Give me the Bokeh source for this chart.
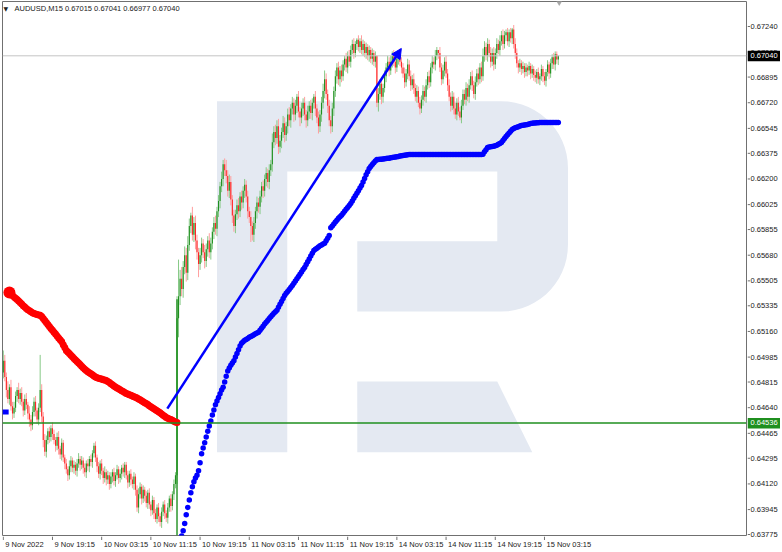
import numpy as np
from bokeh.plotting import figure
from bokeh.layouts import row, column
from bokeh.models import Range1d, Label, ColumnDataSource, Span, Arrow, NormalHead
from bokeh.embed import file_html
from bokeh.resources import INLINE
from bokeh.core.properties import value

SCALE = 1e5  # prices below are written in points (5 digits)

symbol_title = "AUDUSD,M15"
last_ohlc = ["0.67015", "0.67041", "0.66977", "0.67040"]

first_open_pts = 64880
close_pts = [
    64960, 64850, 64760, 64700, 64780, 64650, 64600, 64640, 64720, 64760, 64700, 64740, 64680, 64620, 64700, 64660, 64600, 64560, 64520, 64610,
    64680, 64620, 64560, 64640, 64760, 64580, 64420, 64340, 64420, 64480, 64440, 64500, 64460, 64420, 64380, 64440, 64360, 64320, 64400, 64300,
    64260, 64220, 64180, 64240, 64280, 64230, 64250, 64210, 64260, 64290, 64250, 64280, 64230, 64200, 64260, 64240, 64290, 64270, 64330, 64380,
    64300, 64240, 64190, 64260, 64210, 64160, 64200, 64150, 64180, 64120, 64170, 64200, 64140, 64180, 64220, 64160, 64190, 64230, 64200, 64250,
    64180, 64130, 64190, 64150, 64120, 64170, 64080, 63960, 64050, 64100, 64020, 64080, 64040, 63990, 64060, 63980, 63940, 64010, 63920, 63880,
    63960, 63900, 63860, 63930, 63980, 63920, 63890, 63960, 64020, 63970, 64050, 64120, 64180, 65250, 65400, 65520, 65450, 65600, 65680, 65560,
    65750, 65880, 65950, 65820, 65900, 65780, 65700, 65620, 65680, 65760, 65700, 65640, 65720, 65780, 65700, 65760, 65840, 65900, 65860, 65980,
    66050, 66150, 66200, 66300, 66260, 66220, 66120, 66180, 66060, 65950, 65880, 65960, 66020, 65980, 66080, 66040, 66120, 66160, 66080, 65980,
    65940, 65880, 65820, 65900, 65980, 66040, 66010, 66080, 66150, 66120, 66200, 66240, 66180, 66260, 66300, 66450, 66520, 66480, 66560, 66420,
    66460, 66520, 66580, 66500, 66560, 66640, 66600, 66680, 66720, 66640, 66700, 66760, 66660, 66620, 66680, 66720, 66640, 66600, 66660, 66700,
    66650, 66720, 66760, 66680, 66620, 66560, 66640, 66720, 66800, 66880, 66780, 66700, 66600, 66560, 66680, 66800, 66900, 66960, 66880, 66940,
    66900, 66980, 67020, 66960, 67040, 67000, 67080, 67120, 67060, 67120, 67150, 67100, 67140, 67080, 67120, 67060, 67100, 67040, 67080, 67020,
    67060, 67000, 67040, 66720, 66780, 66850, 66760, 66820, 66900, 66960, 67000, 66940, 67000, 67040, 67000, 66960, 67020, 67050, 67000, 66960,
    66920, 66860, 66920, 66980, 66900, 66840, 66880, 66820, 66760, 66800, 66720, 66680, 66740, 66800, 66760, 66840, 66900, 66860, 66960, 67000,
    66980, 67040, 67080, 67060, 66960, 66880, 66940, 67000, 66920, 66840, 66760, 66700, 66760, 66680, 66640, 66720, 66660, 66620, 66700, 66780,
    66740, 66820, 66760, 66840, 66900, 66840, 66780, 66860, 66920, 66880, 66960, 66900, 67040, 67100, 67040, 67120, 67060, 67000, 67060, 66980,
    67060, 67120, 67080, 67140, 67180, 67120, 67180, 67200, 67140, 67200, 67160, 67220, 67120, 67060, 66990, 66960, 66990, 66950, 66970, 66930,
    66960, 66940, 66970, 66920, 66950, 66910, 66890, 66930, 66880, 66900, 66950, 66900, 66870, 66930, 66980, 66920, 66990, 67030, 66980, 67050, 67015, 67040,
]
wick_up_pts = [
    70, 40, 30, 60, 20, 50, 30, 40, 30, 20, 50, 30, 40, 20, 30, 40, 20, 50, 30, 40,
    30, 40, 20, 30, 240, 40, 30, 40, 30, 20, 30, 20, 40, 30, 20, 30, 40, 20, 30, 20,
    20, 30, 20, 40, 30, 20, 30, 20, 30, 40, 20, 30, 20, 30, 20, 30, 20, 30, 20, 20,
    30, 20, 30, 20, 30, 20, 40, 20, 30, 20, 30, 20, 30, 20, 30, 20, 30, 20, 30, 20,
    20, 30, 20, 30, 20, 30, 20, 30, 40, 30, 20, 30, 20, 30, 20, 30, 20, 30, 20, 30,
    20, 30, 20, 30, 20, 30, 20, 30, 20, 30, 20, 30, 20, 150, 250, 60, 80, 40, 60, 50,
    60, 50, 20, 60, 40, 50, 40, 30, 50, 40, 30, 50, 40, 30, 50, 40, 30, 40, 50, 30,
    40, 30, 50, 30, 40, 70, 40, 50, 40, 30, 40, 30, 40, 50, 30, 40, 30, 40, 30, 40,
    30, 40, 30, 40, 30, 40, 30, 40, 30, 40, 30, 40, 30, 40, 30, 60, 40, 50, 40, 50,
    40, 30, 50, 40, 30, 40, 50, 30, 40, 30, 40, 20, 40, 30, 40, 30, 40, 30, 40, 30,
    40, 30, 20, 40, 30, 40, 30, 40, 50, 60, 40, 30, 40, 30, 40, 30, 40, 30, 40, 30,
    40, 30, 20, 40, 30, 40, 30, 30, 40, 20, 10, 30, 20, 40, 30, 20, 30, 20, 30, 20,
    30, 20, 30, 0, 40, 30, 40, 30, 40, 30, 40, 30, 40, 30, 40, 30, 40, 30, 40, 30,
    30, 40, 30, 40, 30, 40, 30, 40, 30, 40, 30, 40, 30, 40, 30, 40, 30, 40, 30, 40,
    30, 40, 20, 0, 40, 30, 40, 30, 40, 30, 40, 30, 40, 30, 40, 30, 40, 30, 40, 30,
    30, 40, 30, 40, 30, 40, 30, 40, 30, 40, 30, 40, 50, 40, 30, 40, 30, 40, 30, 40,
    30, 40, 30, 40, 30, 40, 30, 20, 30, 20, 30, 10, 30, 40, 30, 20, 30, 20, 30, 20,
    30, 20, 30, 20, 30, 20, 30, 20, 30, 20, 30, 20, 30, 20, 30, 20, 30, 20, 30, 20, 20, 1,
]
wick_dn_pts = [
    40, 30, 50, 30, 40, 30, 40, 30, 30, 40, 30, 40, 30, 40, 30, 30, 40, 50, 40, 30,
    30, 40, 30, 40, 30, 40, 50, 30, 40, 30, 40, 30, 40, 30, 40, 30, 40, 30, 40, 30,
    40, 30, 40, 30, 40, 30, 40, 30, 40, 30, 40, 30, 40, 30, 40, 30, 40, 30, 40, 30,
    30, 40, 30, 40, 30, 40, 30, 40, 30, 40, 30, 40, 30, 40, 30, 40, 30, 40, 30, 40,
    30, 40, 30, 40, 30, 40, 40, 30, 40, 30, 40, 30, 40, 30, 40, 30, 40, 30, 40, 20,
    30, 40, 30, 40, 30, 40, 30, 40, 30, 40, 30, 40, 30, 60, 130, 60, 50, 60, 50, 60,
    50, 40, 50, 40, 50, 60, 50, 90, 40, 50, 40, 50, 40, 50, 40, 50, 40, 50, 40, 50,
    40, 50, 40, 50, 40, 50, 40, 50, 40, 50, 40, 50, 40, 50, 40, 50, 40, 50, 40, 50,
    40, 110, 40, 50, 40, 50, 40, 50, 40, 50, 40, 50, 40, 50, 40, 50, 40, 50, 40, 50,
    40, 50, 40, 50, 40, 50, 40, 50, 40, 50, 40, 50, 40, 60, 40, 50, 40, 50, 40, 50,
    40, 50, 40, 50, 40, 50, 40, 50, 40, 50, 40, 50, 40, 50, 40, 50, 40, 50, 40, 50,
    40, 30, 40, 30, 40, 30, 40, 30, 40, 30, 40, 30, 40, 30, 40, 30, 40, 30, 40, 30,
    40, 30, 40, 30, 60, 40, 50, 40, 30, 40, 30, 40, 30, 40, 30, 40, 30, 40, 30, 40,
    30, 40, 30, 40, 30, 40, 30, 40, 30, 40, 30, 40, 30, 40, 30, 40, 30, 40, 30, 40,
    30, 40, 30, 40, 30, 40, 30, 40, 30, 40, 30, 40, 30, 40, 30, 40, 30, 20, 40, 30,
    30, 40, 30, 40, 30, 40, 30, 40, 30, 40, 30, 40, 30, 40, 30, 40, 30, 40, 30, 40,
    30, 40, 30, 40, 30, 40, 30, 40, 30, 40, 30, 40, 30, 40, 30, 40, 30, 40, 30, 40,
    30, 40, 30, 40, 30, 40, 30, 40, 30, 40, 30, 40, 30, 40, 30, 40, 30, 40, 30, 40, 30, 38,
]

red_start_bar = 4
red_line_pts = [
    65425, 65415, 65405, 65395, 65387, 65378, 65368, 65358, 65347, 65336, 65326, 65316, 65308, 65301, 65294, 65288, 65282, 65279, 65276, 65272,
    65270, 65262, 65249, 65235, 65221, 65207, 65193, 65180, 65168, 65155, 65142, 65129, 65116, 65104, 65090, 65070, 65050, 65030, 65020, 65009,
    64998, 64987, 64976, 64965, 64955, 64944, 64934, 64923, 64913, 64902, 64893, 64885, 64878, 64871, 64864, 64856, 64849, 64844, 64841, 64838,
    64835, 64831, 64828, 64825, 64818, 64811, 64803, 64796, 64788, 64781, 64775, 64769, 64762, 64756, 64750, 64743, 64737, 64733, 64728, 64724,
    64720, 64715, 64711, 64706, 64700, 64694, 64687, 64681, 64674, 64668, 64661, 64654, 64647, 64640, 64633, 64626, 64619, 64612, 64605, 64597,
    64589, 64581, 64573, 64568, 64563, 64559, 64554, 64548, 64543, 64539,
]

blue_start_bar = 113
blue_line_pts = [
    63600, 63650, 63710, 63765, 63800, 63850, 63910, 63960, 64010, 64060, 64100, 64135, 64160, 64180, 64210, 64265, 64325, 64365, 64400, 64440,
    64480, 64515, 64550, 64590, 64625, 64660, 64685, 64710, 64735, 64760, 64780, 64815, 64855, 64890, 64910, 64930, 64945, 64960, 64985, 65010,
    65035, 65060, 65080, 65090, 65100, 65105, 65112, 65120, 65125, 65130, 65138, 65144, 65150, 65155, 65168, 65182, 65196, 65210, 65222, 65235,
    65248, 65260, 65272, 65284, 65295, 65305, 65325, 65345, 65365, 65385, 65405, 65420, 65432, 65446, 65460, 65474, 65488, 65504, 65520, 65535,
    65550, 65566, 65582, 65597, 65616, 65636, 65655, 65674, 65694, 65712, 65720, 65728, 65736, 65744, 65750, 65756, 65762, 65778, 65796, 65814,
    65868, 65880, 65893, 65906, 65919, 65932, 65943, 65952, 65966, 65980, 65993, 66006, 66019, 66032, 66050, 66068, 66086, 66103, 66120, 66138,
    66155, 66180, 66204, 66228, 66250, 66272, 66285, 66298, 66310, 66322, 66332, 66333, 66334, 66335, 66336, 66338, 66340, 66341, 66342, 66344,
    66346, 66348, 66350, 66352, 66354, 66356, 66358, 66360, 66362, 66364, 66366, 66367, 66367, 66367, 66367, 66367, 66367, 66367, 66367, 66367,
    66367, 66367, 66367, 66367, 66367, 66367, 66367, 66367, 66367, 66367, 66367, 66367, 66367, 66367, 66367, 66367, 66367, 66367, 66367, 66367,
    66367, 66367, 66367, 66367, 66367, 66367, 66367, 66367, 66367, 66367, 66367, 66367, 66367, 66367, 66367, 66367, 66367, 66367, 66367, 66368,
    66385, 66400, 66414, 66418, 66420, 66422, 66424, 66426, 66430, 66436, 66442, 66448, 66462, 66476, 66490, 66502, 66514, 66526, 66538, 66545,
    66549, 66553, 66557, 66561, 66564, 66566, 66568, 66570, 66572, 66575, 66578, 66580, 66581, 66582, 66583, 66584, 66585, 66585, 66585, 66585,
    66585, 66585, 66585, 66585, 66585, 66585, 66585, 66585, 66585,
]

support_level = 0.64536
last_price = 0.67040
cpi_bar = 113
cpi_line_top = 0.65380
arrow_bar0, arrow_price0 = 106.7, 0.64634
arrow_bar1, arrow_price1 = 258.9, 0.67090
blue_marker_price = 0.64610

price_ticks = [0.67240, 0.67065, 0.66895, 0.66720, 0.66545, 0.66375, 0.66200, 0.66025,
               0.65855, 0.65680, 0.65505, 0.65335, 0.65160, 0.64985, 0.64815, 0.64640,
               0.64465, 0.64295, 0.64120, 0.63945, 0.63775]
price_labels = ["%.5f" % t for t in price_ticks]
time_tick_bars = [0, 32, 64, 96, 128, 160, 192, 224, 256, 288, 320, 352]
time_labels = ["9 Nov 2022", "9 Nov 19:15", "10 Nov 03:15", "10 Nov 11:15", "10 Nov 19:15",
               "11 Nov 03:15", "11 Nov 11:15", "11 Nov 19:15", "14 Nov 03:15",
               "14 Nov 11:15", "14 Nov 19:15", "15 Nov 03:15"]

# ---------------------------------------------------------------- layout
MAIN_W, MAIN_H = 747, 536
RIGHT_W = 33
BOTTOM_H = 14
X_START, X_END = -0.5, 483.4
Y_START, Y_END = 0.637682, 0.674105
FRAME_H = MAIN_H - 2
DPX = (Y_END - Y_START) / FRAME_H  # price per screen pixel

FONT = "Liberation Sans"
FS = "7.5px"
TXT = "#1a1a1a"
FRAME_COL = "#707070"

xr = Range1d(X_START, X_END)
yr = Range1d(Y_START, Y_END)

p = figure(width=MAIN_W, height=MAIN_H, x_range=xr, y_range=yr,
           x_axis_location=None, y_axis_location=None,
           output_backend="svg", toolbar_location=None,
           min_border_left=2, min_border_top=1, min_border_right=1, min_border_bottom=1)
p.background_fill_color = "white"
p.border_fill_color = "white"
p.outline_line_color = FRAME_COL
p.outline_line_width = 1
p.grid.visible = False

# ---------------------------------------------------------------- watermark logo
def logo_to_data(pts):
    return ([(x - 2) / 1.5375 for x, _ in pts],
            [(63775 + (534 - y) * 6.82) / SCALE for _, y in pts])

r = 66.7
outer = [(215.7, 100.7), (500, 100.7)]
for t in np.linspace(-np.pi / 2, 0, 16)[1:]:
    outer.append((500 + r * np.cos(t), 167.4 + r * np.sin(t)))
outer.append((566.7, 244.3))
for t in np.linspace(0, np.pi / 2, 16)[1:]:
    outer.append((500 + r * np.cos(t), 244.3 + r * np.sin(t)))
outer += [(356, 311), (356, 240.7), (496, 240.7), (496, 171), (286, 171), (286, 451.7), (215.7, 451.7)]
leg = [(356, 381), (496, 381), (531, 451.7), (356, 451.7)]
ox, oy = logo_to_data(outer)
lx, ly = logo_to_data(leg)
p.patches(xs=[ox, lx], ys=[oy, ly], fill_color="#e4e9f2", line_color=None)

# ---------------------------------------------------------------- reference lines
p.add_layout(Span(location=last_price, dimension="width", line_color="#c4c4c4", line_width=1))

# ---------------------------------------------------------------- candles
opens = [first_open_pts] + close_pts[:-1]
n = min(len(close_pts), len(wick_up_pts), len(wick_dn_pts))
xs, o_, c_, h_, l_, wc, bc = [], [], [], [], [], [], []
for i in range(n):
    o, c = opens[i], close_pts[i]
    xs.append(i)
    o_.append(o / SCALE)
    c_.append(c / SCALE)
    h_.append((max(o, c) + wick_up_pts[i]) / SCALE)
    l_.append((min(o, c) - wick_dn_pts[i]) / SCALE)
    if c >= o:
        wc.append("#86c986"); bc.append("#1f8f1f")
    else:
        wc.append("#ff9e9e"); bc.append("#ff2626")
src = ColumnDataSource(dict(x=xs, o=o_, c=c_, h=h_, l=l_, wc=wc, bc=bc))
p.segment(x0="x", y0="l", x1="x", y1="h", line_color="wc", line_width=1, source=src)
p.segment(x0="x", y0="o", x1="x", y1="c", line_color="bc", line_width=1.1, source=src)

# green lines
p.add_layout(Span(location=support_level, dimension="width", line_color="#1f8f1f", line_width=1.6))
p.segment(x0=[cpi_bar], y0=[Y_START], x1=[cpi_bar], y1=[cpi_line_top],
          line_color="#1f8f1f", line_width=1.4)

# small blue marker at left
p.segment(x0=[X_START], y0=[blue_marker_price], x1=[3.5], y1=[blue_marker_price],
          line_color="#0000ff", line_width=5)

# red dotted line
red_x = [red_start_bar + k for k in range(len(red_line_pts))]
red_y = [v / SCALE for v in red_line_pts]
p.scatter(red_x, red_y, size=7, color="#ff0000", line_color=None)
p.scatter(red_x[:1], red_y[:1], size=12, color="#ff0000", line_color=None)

# blue dotted line
blue_x = [blue_start_bar + k for k in range(len(blue_line_pts))]
blue_y = [v / SCALE for v in blue_line_pts]
p.scatter(blue_x, blue_y, size=5.5, color="#0000ff", line_color=None)

# arrow
p.add_layout(Arrow(end=NormalHead(size=10, fill_color="#0000ff", line_color="#0000ff"),
                   x_start=arrow_bar0, y_start=arrow_price0, x_end=arrow_bar1, y_end=arrow_price1,
                   line_color="#0000ff", line_width=2.5))

# shift marker at top
p.scatter([361.6], [Y_END], marker="inverted_triangle", size=8, color="#a8a8a8", line_color=None)

# header
p.add_layout(Label(x=X_START, y=Y_END - 7 * DPX, x_offset=1, text="\u25bc",
                   text_font="DejaVu Sans", text_font_size="6px", text_color="#202020",
                   text_baseline="middle"))
p.add_layout(Label(x=X_START, y=Y_END - 7 * DPX, x_offset=12,
                   text=symbol_title + "  " + " ".join(last_ohlc),
                   text_font=FONT, text_font_size=FS, text_color=TXT, text_baseline="middle"))

# ---------------------------------------------------------------- price scale (right)
RIGHT_H = MAIN_H + BOTTOM_H
ryr = Range1d(Y_START - (BOTTOM_H + 1) * DPX, Y_END)
rf = figure(width=RIGHT_W, height=RIGHT_H, x_range=Range1d(0, RIGHT_W), y_range=ryr,
            x_axis_location=None, y_axis_location=None,
            output_backend="svg", toolbar_location=None,
            min_border_left=0, min_border_right=0, min_border_top=1, min_border_bottom=0)
rf.outline_line_color = None
rf.grid.visible = False
rf.background_fill_color = "white"
rf.border_fill_color = "white"
rf.segment(x0=[0] * len(price_ticks), x1=[2.5] * len(price_ticks), y0=price_ticks, y1=price_ticks,
           line_color=FRAME_COL, line_width=1)
rf.text(x=[3] * len(price_ticks), y=price_ticks, text=price_labels,
        text_font=value(FONT), text_font_size=value(FS), text_color=TXT,
        text_align="left", text_baseline="middle")
badge_prices = [last_price, support_level]
badge_colors = ["#000000", "#1f8f1f"]
rf.quad(left=[0, 0], right=[RIGHT_W, RIGHT_W],
        bottom=[b - 5.5 * DPX for b in badge_prices], top=[b + 5.0 * DPX for b in badge_prices],
        fill_color=badge_colors, line_color=None)
rf.text(x=[3, 3], y=badge_prices, text=["%.5f" % b for b in badge_prices],
        text_font=value(FONT), text_font_size=value(FS), text_color="white",
        text_align="left", text_baseline="middle")

# ---------------------------------------------------------------- time scale (bottom)
bf = figure(width=MAIN_W, height=BOTTOM_H, x_range=xr, y_range=Range1d(0, BOTTOM_H),
            x_axis_location=None, y_axis_location=None,
            output_backend="svg", toolbar_location=None,
            min_border_left=2, min_border_right=1, min_border_top=0, min_border_bottom=0)
bf.outline_line_color = None
bf.grid.visible = False
bf.background_fill_color = "white"
bf.border_fill_color = "white"
bf.segment(x0=time_tick_bars, x1=time_tick_bars, y0=[BOTTOM_H] * len(time_tick_bars),
           y1=[BOTTOM_H - 3.5] * len(time_tick_bars), line_color=FRAME_COL, line_width=1)
bf.text(x=time_tick_bars, y=[6.5] * len(time_tick_bars), text=time_labels, x_offset=2,
        text_font=value(FONT), text_font_size=value(FS), text_color=TXT,
        text_align="left", text_baseline="middle")

layout = row(column(p, bf), rf)
open("out.html", "w").write(file_html(layout, INLINE))
